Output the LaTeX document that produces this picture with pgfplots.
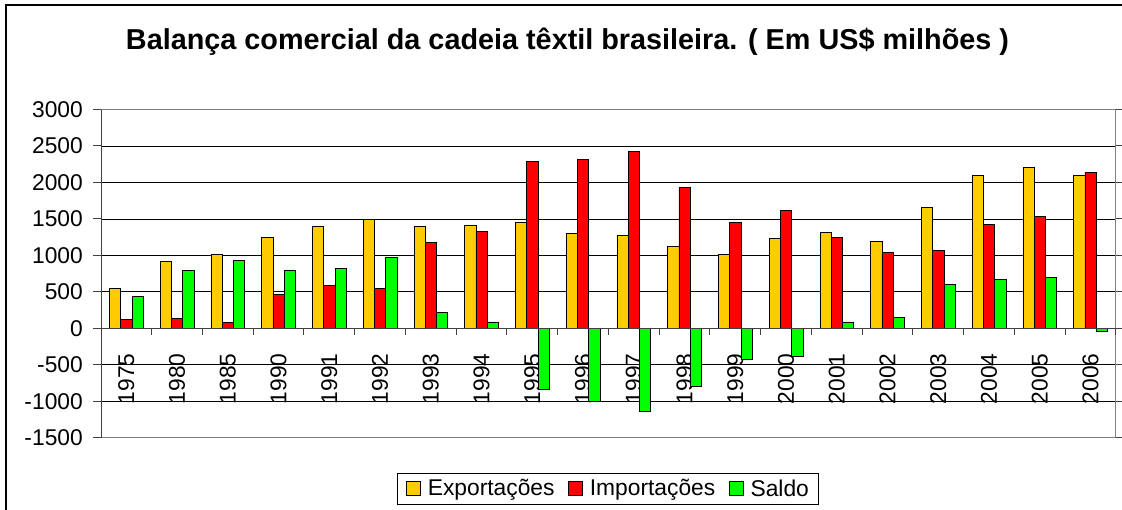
\documentclass[border=0pt]{standalone}
\usepackage{pgfplots}
\pgfplotsset{compat=1.18}
\usepackage{fontspec}
\setmainfont{Liberation Sans}
\definecolor{cexp}{RGB}{255,204,0}
\definecolor{cimp}{RGB}{255,0,0}
\definecolor{csal}{RGB}{0,255,0}
\begin{document}
\begin{tikzpicture}[x=1pt,y=1pt]
\useasboundingbox (0,0) rectangle (1122,509);
\draw[line width=1.3pt] (6,-5) -- (6,504) -- (1130,504);
\node[font=\fontsize{28.8}{34}\selectfont\bfseries, anchor=base] at (567.5,459) {Balança comercial da cadeia têxtil brasileira. ( Em US\$ milhões )};
\begin{axis}[
  at={(101pt,71.3pt)}, anchor=south west,
  scale only axis, width=1015pt, height=328.2pt,
  xmin=-0.5, xmax=19.5, ymin=-1500, ymax=3000,
  ytick={-1500,-1000,...,3000},
  xtick={0,...,19},
  xticklabels={1975,1980,1985,1990,1991,1992,1993,1994,1995,1996,1997,1998,1999,2000,2001,2002,2003,2004,2005,2006},
  ybar=0pt, bar width=11.3pt,
  ymajorgrids, grid style={black, line width=0.8pt},
  axis line style={draw=gray, line width=1pt},
  tick align=outside, major tick length=8pt,
  ytick style={black!75, line width=1pt},
  xtick style={draw=none},
  /pgf/number format/assume math mode=true,
  /pgf/number format/set thousands separator={},
  yticklabel style={font=\fontsize{22.8}{27}\selectfont, anchor=east, inner sep=0pt, xshift=-10pt},
  xticklabel style={font=\fontsize{22.8}{27}\selectfont, yshift=92.5pt, rotate=90, anchor=east, inner sep=0pt},
  legend columns=3,
  legend style={at={(0.499,-0.1548)}, anchor=center, draw=black, line width=0.8pt,
    font=\fontsize{22.8}{27}\selectfont, inner xsep=9pt, inner ysep=5.5pt,
    nodes={inner xsep=0pt, inner ysep=1pt},
    /tikz/every odd column/.append style={column sep=7pt},
    /tikz/every even column/.append style={column sep=13.5pt}},
  legend image code/.code={\draw[#1, line width=0.8pt] (0pt,-6.5pt) rectangle (14pt,7.5pt);},
]
\addplot[fill=cexp, draw=black, line width=0.8pt] coordinates {
(0,548) (1,913) (2,1018) (3,1251) (4,1397) (5,1498) (6,1397) (7,1411) (8,1447) (9,1297)
(10,1279) (11,1119) (12,1018) (13,1228) (14,1311) (15,1192) (16,1658) (17,2091) (18,2210) (19,2091)};
\addplot[fill=cimp, draw=black, line width=0.8pt] coordinates {
(0,119) (1,137) (2,82) (3,466) (4,584) (5,548) (6,1178) (7,1329) (8,2292) (9,2311)
(10,2425) (11,1927) (12,1447) (13,1612) (14,1247) (15,1046) (16,1064) (17,1425) (18,1530) (19,2142)};
\addplot[fill=csal, draw=black, line width=0.8pt] coordinates {
(0,434) (1,799) (2,932) (3,799) (4,817) (5,968) (6,219) (7,87) (8,-840) (9,-1005)
(10,-1142) (11,-790) (12,-425) (13,-379) (14,87) (15,151) (16,598) (17,667) (18,699) (19,-46)};
\legend{Exportações,Importações,Saldo}
\draw[black!75, line width=1pt] (axis cs:-0.5,0) -- (axis cs:19.5,0);
\draw[black!75, line width=1pt] (axis cs:-0.5,-1500) -- (axis cs:-0.5,3000);
\pgfplotsinvokeforeach{-0.5,0.5,1.5,2.5,3.5,4.5,5.5,6.5,7.5,8.5,9.5,10.5,11.5,12.5,13.5,14.5,15.5,16.5,17.5,18.5,19.5}{\draw[black!75, line width=1pt] (axis cs:#1,0) -- ([yshift=-7pt]axis cs:#1,0);}
\end{axis}
\end{tikzpicture}
\end{document}
